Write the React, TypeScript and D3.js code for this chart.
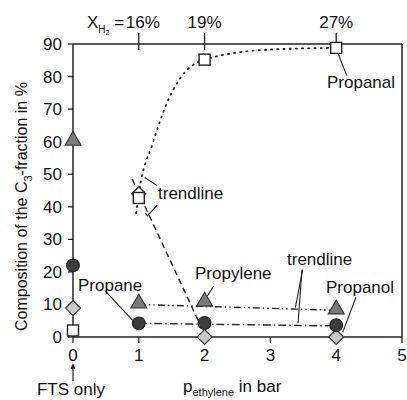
import React from 'react';
import * as d3 from 'd3';

// x = ethylene partial pressure in bar, y = composition in %
const propaneData: [number, number][] = [[0, 22], [1, 4.2], [2, 4.3], [4, 3.6]];
const propyleneData: [number, number][] = [[0, 60], [1, 10], [2, 10.6], [4, 8.2]];
const propanolData: [number, number][] = [[0, 8.9], [1, 44], [2, 0], [4, 0]];
const propanalData: [number, number][] = [[0, 2], [1, 42.7], [2, 85.2], [4, 88.8]];

// trendlines
const propanalTrend: [number, number][] = [[0.96, 38], [1, 44], [1.22, 60], [1.43, 72], [1.63, 79.5], [2, 85.2], [3, 88.3], [4, 88.8]];
const propanolTrend: [number, number][] = [[0.9, 48.5], [1.95, 3]];
const propyleneTrend: [number, number][] = [[1, 10], [4, 8.2]];
const propaneTrend: [number, number][] = [[1, 4.2], [4, 3.4]];

const xTicks = [0, 1, 2, 3, 4, 5];
const yTicks = [0, 10, 20, 30, 40, 50, 60, 70, 80, 90];
const topTicks = [1, 2, 4];
const topLabels = ['16%', '19%', '27%'];

const FONT = 'Liberation Sans, Arial, sans-serif';

const App = () => {
  const width = 407;
  const height = 400;
  const x = d3.scaleLinear().domain([0, 5]).range([73, 402]);
  const y = d3.scaleLinear().domain([0, 90]).range([337, 44]);

  const line = d3.line<[number, number]>().x(d => x(d[0])).y(d => y(d[1]));
  const curve = d3.line<[number, number]>().x(d => x(d[0])).y(d => y(d[1])).curve(d3.curveMonotoneX);

  const tri = d3.symbol().type(d3.symbolTriangle).size(110)();
  const dia = (s: number) => `M0,${-s}L${s},0L0,${s}L${-s},0Z`;

  return (
    <svg width={width} height={height} style={{ position: 'absolute', left: 0, top: 0, fontFamily: FONT }}>
      <rect width={width} height={height} fill="white" />

      {/* trendlines */}
      <path d={curve(propanalTrend) || ''} fill="none" stroke="#222" strokeWidth={1.8} strokeDasharray="1.2,5" strokeLinecap="round" />
      <path d={line(propanolTrend) || ''} fill="none" stroke="#222" strokeWidth={1.4} strokeDasharray="6,4" />
      <path d={line(propyleneTrend) || ''} fill="none" stroke="#222" strokeWidth={1.4} strokeDasharray="7,3,1.5,3,1.5,3" />
      <path d={line(propaneTrend) || ''} fill="none" stroke="#222" strokeWidth={1.4} strokeDasharray="8,3,1.5,3" />

      {/* frame */}
      <line x1={x(0)} x2={x(5)} y1={y(90)} y2={y(90)} stroke="#222" strokeWidth={1.5} />
      <line x1={x(5)} x2={x(5)} y1={y(90)} y2={y(0)} stroke="#222" strokeWidth={1.5} />
      <line x1={x(0)} x2={x(0)} y1={y(90)} y2={y(0)} stroke="#222" strokeWidth={1.5} />
      <line x1={x(0)} x2={x(5)} y1={y(0)} y2={y(0)} stroke="#222" strokeWidth={1.5} />

      {/* y axis */}
      {yTicks.map(t => (
        <g key={t}>
          <line x1={x(0) - 5} x2={x(0)} y1={y(t)} y2={y(t)} stroke="#222" strokeWidth={1.3} />
          <text x={x(0) - 11} y={y(t) + 6} textAnchor="end" fontSize={17} fill="#111">{t}</text>
        </g>
      ))}
      {/* x axis */}
      {xTicks.map(t => (
        <g key={t}>
          <line x1={x(t)} x2={x(t)} y1={y(0)} y2={y(0) + 6} stroke="#222" strokeWidth={1.3} />
          <text x={x(t)} y={y(0) + 24} textAnchor="middle" fontSize={17} fill="#111">{t}</text>
        </g>
      ))}
      {/* top axis */}
      {topTicks.map((t, i) => (
        <g key={t}>
          <line x1={x(t)} x2={x(t)} y1={y(90) - 11} y2={y(90) + 6} stroke="#222" strokeWidth={1.3} />
          <text x={x(t) + (i === 0 ? 4 : 0)} y={y(90) - 16} textAnchor="middle" fontSize={17} fill="#111">{topLabels[i]}</text>
        </g>
      ))}
      <text x={87} y={y(90) - 16} fontSize={17} fill="#111">
        X<tspan fontSize={10} dy={5}>H</tspan><tspan fontSize={7} dy={2}>2</tspan><tspan dy={-7} fontSize={17}> =</tspan>
      </text>

      {/* axis titles */}
      <text transform={`translate(27,${(y(0) + y(90)) / 2 + 16}) rotate(-90)`} textAnchor="middle" fontSize={16} fill="#111">
        Composition of the C<tspan fontSize={11} dy={5}>3</tspan><tspan dy={-5}>-fraction in %</tspan>
      </text>
      <text x={183} y={392} fontSize={17} fill="#111">
        p<tspan fontSize={11} dy={4}>ethylene</tspan><tspan dy={-4}> in bar</tspan>
      </text>
      <text x={x(0) - 2} y={395} textAnchor="middle" fontSize={17} fill="#111">FTS only</text>
      <line x1={x(0)} x2={x(0)} y1={381} y2={367} stroke="#222" strokeWidth={1.2} />
      <path d={`M${x(0) - 2.5},${369}L${x(0)},${363}L${x(0) + 2.5},${369}Z`} fill="#222" />

      {/* markers */}
      {propanolData.filter(d => d[0] !== 1).map((d, i) => (
        <path key={'pn' + i} d={dia(7.5)} transform={`translate(${x(d[0])},${y(d[1])})`} fill="#c8c8c8" stroke="#333" strokeWidth={1.1} />
      ))}
      {propanolData.filter(d => d[0] === 1).map((d, i) => (
        <path key={'pn1' + i} d={dia(7)} transform={`translate(${x(d[0])},${y(d[1])})`} fill="white" stroke="#222" strokeWidth={1.3} />
      ))}
      {propanalData.map((d, i) => (
        <rect key={'pa' + i} x={x(d[0]) - 5.5} y={y(d[1]) - 5.5} width={11} height={11} fill="white" stroke="#222" strokeWidth={1.4} />
      ))}
      {propyleneData.map((d, i) => (
        <path key={'py' + i} d={tri || ''} transform={`translate(${x(d[0])},${y(d[1]) - 1})`} fill="#7a7a7a" stroke="#333" strokeWidth={1.1} />
      ))}
      {propaneData.map((d, i) => (
        <circle key={'pe' + i} cx={x(d[0])} cy={y(d[1])} r={6.4} fill="#3c3c3c" stroke="#222" strokeWidth={1.1} />
      ))}

      {/* labels and leaders */}
      <text x={158} y={199} fontSize={17} fill="#111">trendline</text>
      <line x1={x(1.09)} y1={y(49)} x2={x(1.28)} y2={y(46.5)} stroke="#222" strokeWidth={1.1} />
      <path d={`M${x(1.1)},${y(38)}L${x(1.13)},${y(37.2)}L${x(1.28)},${y(40.5)}`} fill="none" stroke="#222" strokeWidth={1.1} />

      <text x={287} y={265} fontSize={17} fill="#111">trendline</text>
      <line x1={x(3.49)} y1={y(20.7)} x2={x(3.38)} y2={y(9)} stroke="#222" strokeWidth={1.1} />
      <line x1={x(3.48)} y1={y(20.7)} x2={x(3.42)} y2={y(4.2)} stroke="#222" strokeWidth={1.1} />

      <text x={195} y={279} fontSize={17} fill="#111">Propylene</text>
      <line x1={x(2.14)} y1={y(15.7)} x2={x(2.04)} y2={y(12.5)} stroke="#222" strokeWidth={1.1} />

      <text x={78} y={291} fontSize={17} fill="#111">Propane</text>
      <line x1={x(0.49)} y1={y(14.2)} x2={x(0.91)} y2={y(5)} stroke="#222" strokeWidth={1.1} />

      <text x={326} y={293} fontSize={17} fill="#111">Propanol</text>
      <line x1={x(4.3)} y1={y(12.2)} x2={x(4.1)} y2={y(1.5)} stroke="#222" strokeWidth={1.1} />

      <text x={327} y={88} fontSize={17} fill="#111">Propanal</text>
      <line x1={x(4.03)} y1={y(87)} x2={x(4.16)} y2={y(80.3)} stroke="#222" strokeWidth={1.1} />
    </svg>
  );
};

export default App;
